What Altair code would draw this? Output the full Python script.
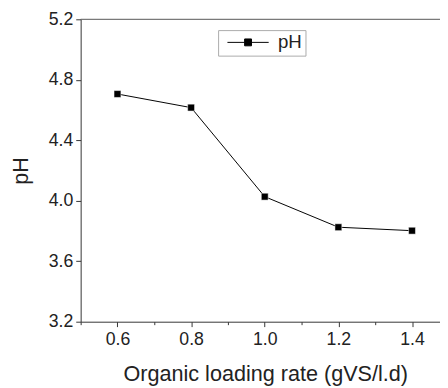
import altair as alt
import pandas as pd

olr = [0.6, 0.8, 1.0, 1.2, 1.4]
ph = [4.706, 4.616, 4.027, 3.825, 3.802]
series = ["pH"] * 5
x_ticks = [0.5, 0.6, 0.7, 0.8, 0.9, 1.0, 1.1, 1.2, 1.3, 1.4]
y_ticks = [3.2, 3.4, 3.6, 3.8, 4.0, 4.2, 4.4, 4.6, 4.8, 5.0, 5.2]

df = pd.DataFrame({"olr": olr, "ph": ph, "series": series})

FONT = "Liberation Sans"
TXT = "#222222"
AX = "#333333"

xscale = alt.Scale(domain=[0.5, 1.476], nice=False, zero=False)
yscale = alt.Scale(domain=[3.2, 5.2], nice=False, zero=False)

xaxis = alt.Axis(
    values=x_ticks,
    labelExpr="round(datum.value*10)%2==0 ? format(datum.value,'.1f') : ''",
    tickSize={"condition": {"test": "round(datum.value*10)%2==0", "value": 5}, "value": 3},
    grid=False, domainColor=AX, tickColor=AX, labelColor=TXT, titleColor=TXT,
    labelFont=FONT, titleFont=FONT, labelFontSize=18, titleFontSize=22,
    titleFontWeight="normal", labelPadding=4, titlePadding=16,
    titleX=188, titleAlign="center",
    title="Organic loading rate (gVS/l.d)", labelFlush=False,
)
yaxis = alt.Axis(
    values=y_ticks,
    labelExpr="round(datum.value*10)%4==0 ? format(datum.value,'.1f') : ''",
    tickSize={"condition": {"test": "round(datum.value*10)%4==0", "value": 5}, "value": 3},
    grid=False, domainColor=AX, tickColor=AX, labelColor=TXT, titleColor=TXT,
    labelFont=FONT, titleFont=FONT, labelFontSize=18, titleFontSize=22,
    titleFontWeight="normal", labelPadding=3, titlePadding=16,
    title="pH", labelFlush=False,
)

base = alt.Chart(df)

line = base.mark_line(color="black", strokeWidth=1).encode(
    x=alt.X("olr:Q", scale=xscale, axis=xaxis),
    y=alt.Y("ph:Q", scale=yscale, axis=yaxis),
)

points = base.mark_square(size=49, filled=True, opacity=1, stroke="white", strokeWidth=0.5).encode(
    x=alt.X("olr:Q", scale=xscale),
    y=alt.Y("ph:Q", scale=yscale),
    color=alt.Color(
        "series:N",
        scale=alt.Scale(range=["black"]),
        legend=alt.Legend(
            title=None, orient="none", legendX=140, legendY=11,
            symbolType="M-3,0H-0.5M0.5,0H3M-0.5,-0.5H0.5V0.5H-0.5Z",
            symbolSize=196, symbolStrokeWidth=1, symbolStrokeColor="black",
            symbolFillColor="black", symbolOffset=18, labelFont=FONT,
            labelFontSize=19, labelColor=TXT, labelOffset=21, padding=3,
            strokeColor="#aaaaaa", fillColor="white",
        ),
    ),
)

top = alt.Chart(pd.DataFrame({"v": [5.2]})).mark_rule(color="#555555", strokeWidth=1).encode(
    y=alt.Y("v:Q", scale=yscale)
)

chart = alt.layer(line, points, top).properties(
    width=366, height=308,
    autosize=alt.AutoSizeParams(type="none"),
    padding={"left": 74, "top": 8, "right": 0, "bottom": 64},
).configure_view(stroke=None)

chart.save("out.html", embed_options={"renderer": "svg", "actions": False})
